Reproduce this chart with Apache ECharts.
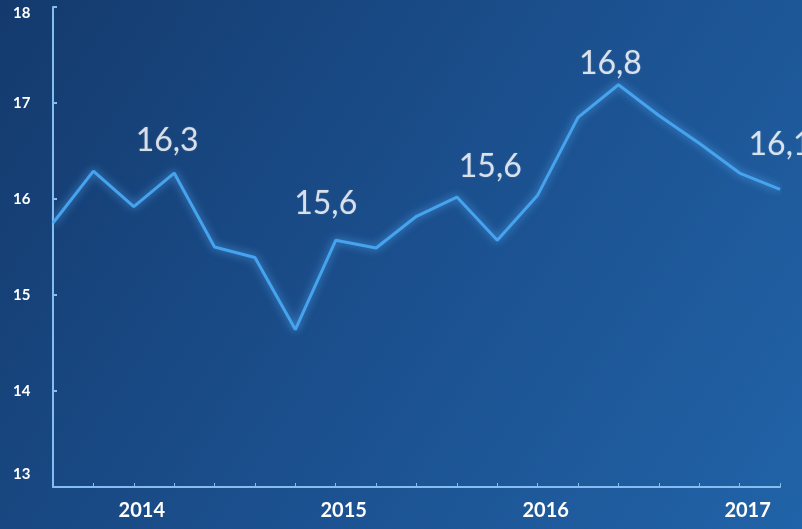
<!DOCTYPE html>
<html>
<head>
<meta charset="utf-8">
<script src="https://cdn.jsdelivr.net/npm/echarts@6/dist/echarts.min.js"></script>
<style>
html,body{margin:0;padding:0;width:802px;height:529px;overflow:hidden;}
#c{width:802px;height:529px;}
</style>
</head>
<body>
<div id="c"></div>
<script>
// ---- data ----
var categories = ['', '', '2014', '', '', '', '', '2015', '', '', '', '', '2016', '', '', '', '', '2017', ''];
var values = [15.75, 16.29, 15.92, 16.27, 15.50, 15.39, 14.64, 15.57, 15.49, 15.82, 16.02, 15.57, 16.04, 16.85, 17.19, 16.87, 16.58, 16.27, 16.10];
var annotationIndex = [3, 7, 11, 14, 18];
var annotationText = ['16,3', '15,6', '15,6', '16,8', '16,1'];
var yTicks = [13, 14, 15, 16, 17, 18];

// ---- presentation ----
var annOffsets = {3: [-7, -10], 7: [-10, -15], 11: [-7, -52], 14: [-8, 1], 18: [0, -23]};

var annData = annotationIndex.map(function (i, k) {
  return {
    value: [i, values[i]],
    label: {
      show: true,
      position: 'top',
      formatter: annotationText[k],
      offset: annOffsets[i],
      color: '#ffffff',
      fontFamily: 'Lato',
      fontSize: 32,
      fontWeight: 'normal',
      textShadowColor: 'rgba(255,255,255,0.25)',
      textShadowBlur: 2
    }
  };
});

var chart = echarts.init(document.getElementById('c'));
chart.setOption({
  animation: false,
  backgroundColor: {
    type: 'linear', x: 0, y: 0, x2: 1, y2: 1,
    colorStops: [
      {offset: 0, color: '#143a6d'},
      {offset: 0.5, color: '#1b4f8d'},
      {offset: 1, color: '#2163a8'}
    ]
  },
  grid: {left: 53, right: 22, top: 7, bottom: 42, containLabel: false},
  xAxis: {
    type: 'category',
    data: categories,
    boundaryGap: false,
    axisLine: {lineStyle: {color: '#86bdf0', width: 2}},
    axisTick: {show: true, inside: true, length: 4, interval: 0, lineStyle: {color: '#86bdf0', width: 1}},
    axisLabel: {
      interval: 0,
      color: '#ffffff',
      fontFamily: 'Lato',
      fontWeight: 'bold',
      fontSize: 20,
      margin: 14,
      padding: [0, 0, 0, 16]
    },
    splitLine: {show: false}
  },
  yAxis: {
    type: 'value',
    min: yTicks[0],
    max: yTicks[yTicks.length - 1],
    interval: 1,
    axisLine: {show: true, lineStyle: {color: '#86bdf0', width: 2}},
    axisTick: {show: true, inside: true, length: 4, lineStyle: {color: '#86bdf0', width: 2}},
    axisLabel: {
      color: '#ffffff',
      fontFamily: 'Lato',
      fontWeight: 'bold',
      fontSize: 15,
      align: 'left',
      margin: 40,
      verticalAlign: 'middle',
      formatter: function (v) {
        if (v === yTicks[yTicks.length - 1]) return '{t|' + v + '}';
        if (v === yTicks[0]) return '{b|' + v + '}';
        return String(v);
      },
      rich: {
        t: {color: '#ffffff', fontFamily: 'Lato', fontWeight: 'bold', fontSize: 15, padding: [12, 0, 0, 0]},
        b: {color: '#ffffff', fontFamily: 'Lato', fontWeight: 'bold', fontSize: 15, padding: [0, 0, 26, 0]}
      }
    },
    splitLine: {show: false}
  },
  series: [{
    type: 'line',
    data: values,
    symbol: 'none',
    smooth: false,
    lineStyle: {
      color: '#46a3ee',
      width: 3,
      shadowColor: 'rgba(90,180,255,0.8)',
      shadowBlur: 8
    },
    z: 3
  }, {
    type: 'scatter',
    data: annData,
    symbol: 'circle',
    symbolSize: 2,
    itemStyle: {color: 'rgba(0,0,0,0)'},
    z: 4
  }]
});
</script>
</body>
</html>
